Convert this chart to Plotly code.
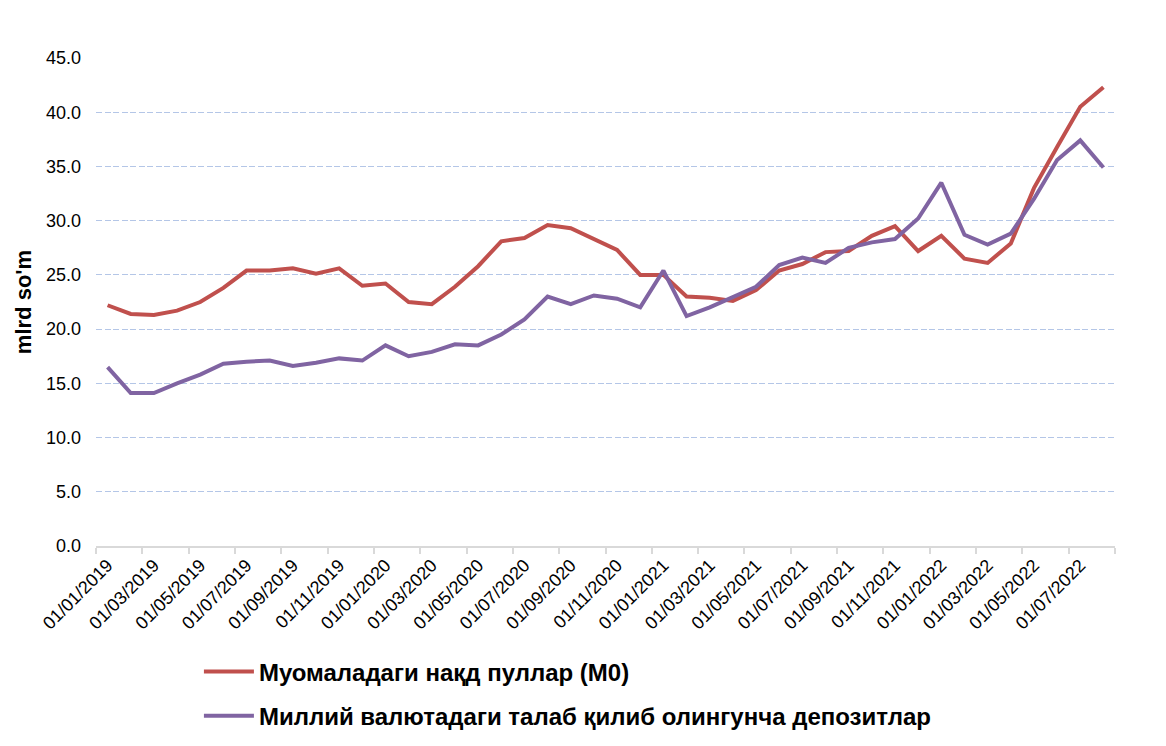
import plotly.graph_objects as go

# monthly, 01/01/2019 .. 01/08/2022
months = ["01/%02d/%d" % (m, y) for y in (2019, 2020, 2021, 2022) for m in range(1, 13)][:44]

tick_labels = ["01/01/2019", "01/03/2019", "01/05/2019", "01/07/2019", "01/09/2019", "01/11/2019",
               "01/01/2020", "01/03/2020", "01/05/2020", "01/07/2020", "01/09/2020", "01/11/2020",
               "01/01/2021", "01/03/2021", "01/05/2021", "01/07/2021", "01/09/2021", "01/11/2021",
               "01/01/2022", "01/03/2022", "01/05/2022", "01/07/2022"]

m0 = [22.2, 21.4, 21.3, 21.7, 22.5, 23.8, 25.4, 25.4, 25.6, 25.1, 25.6, 24.0,
      24.2, 22.5, 22.3, 23.9, 25.8, 28.1, 28.4, 29.6, 29.3, 28.3, 27.3, 25.0,
      25.0, 23.0, 22.9, 22.6, 23.6, 25.4, 26.0, 27.1, 27.2, 28.6, 29.5, 27.2,
      28.6, 26.5, 26.1, 27.9, 33.0, 36.8, 40.5, 42.3]

deposits = [16.5, 14.1, 14.1, 15.0, 15.8, 16.8, 17.0, 17.1, 16.6, 16.9, 17.3, 17.1,
            18.5, 17.5, 17.9, 18.6, 18.5, 19.5, 20.9, 23.0, 22.3, 23.1, 22.8, 22.0,
            25.4, 21.2, 22.0, 22.9, 23.9, 25.9, 26.6, 26.1, 27.5, 28.0, 28.3, 30.2,
            33.5, 28.7, 27.8, 28.8, 32.0, 35.6, 37.4, 34.9]

name_m0 = "Муомаладаги нақд пуллар (М0)"
name_dep = "Миллий валютадаги талаб қилиб олингунча депозитлар"

idx = list(range(len(months)))

fig = go.Figure()
fig.add_trace(go.Scatter(x=idx, y=m0, name=name_m0, mode="lines", legendgroup="a",
                         line=dict(color="#C0504D", width=4), customdata=months,
                         hovertemplate="%{customdata}: %{y:.1f}<extra></extra>"))
fig.add_trace(go.Scatter(x=idx, y=deposits, name=name_dep, mode="lines", legendgroup="b",
                         line=dict(color="#8064A2", width=4), customdata=months,
                         hovertemplate="%{customdata}: %{y:.1f}<extra></extra>"))

# page body adds 8px, margins account for it
fig.update_layout(
    width=1166, height=746,
    margin=dict(l=88, r=59, t=50, b=208),
    plot_bgcolor="white", paper_bgcolor="white",
    font=dict(family="Liberation Sans, Arial, sans-serif", color="#000000"),
    showlegend=True,
    legend=dict(orientation="v", x=0.101, xanchor="left", y=-0.212, yanchor="top",
                font=dict(size=24, family="Liberation Sans, Arial, sans-serif", weight="bold"),
                traceorder="grouped", tracegroupgap=10, itemwidth=50,
                bgcolor="rgba(0,0,0,0)"),
    xaxis=dict(range=[-0.5, 43.5], tickmode="array", tickvals=idx[::2], ticktext=tick_labels,
               tickangle=-45, tickfont=dict(size=18), ticks="", showgrid=False, zeroline=False,
               showline=True, linecolor="#D9D9D9", linewidth=1.5, automargin=False,
               minor=dict(tick0=-0.5, dtick=2, ticks="outside", ticklen=6, tickcolor="#D9D9D9",
                          tickwidth=1.5, showgrid=False)),
    yaxis=dict(range=[0, 45], dtick=5, tickformat=".1f", tickfont=dict(size=18),
               showgrid=True, gridcolor="#B4C6E7", griddash="6px,2.5px", gridwidth=1.3,
               zeroline=False, showline=False, ticklabelstandoff=14, automargin=False,
               title=dict(text="mlrd so'm", font=dict(size=22, weight="bold"), standoff=8)),
)

fig.write_html("out.html")
